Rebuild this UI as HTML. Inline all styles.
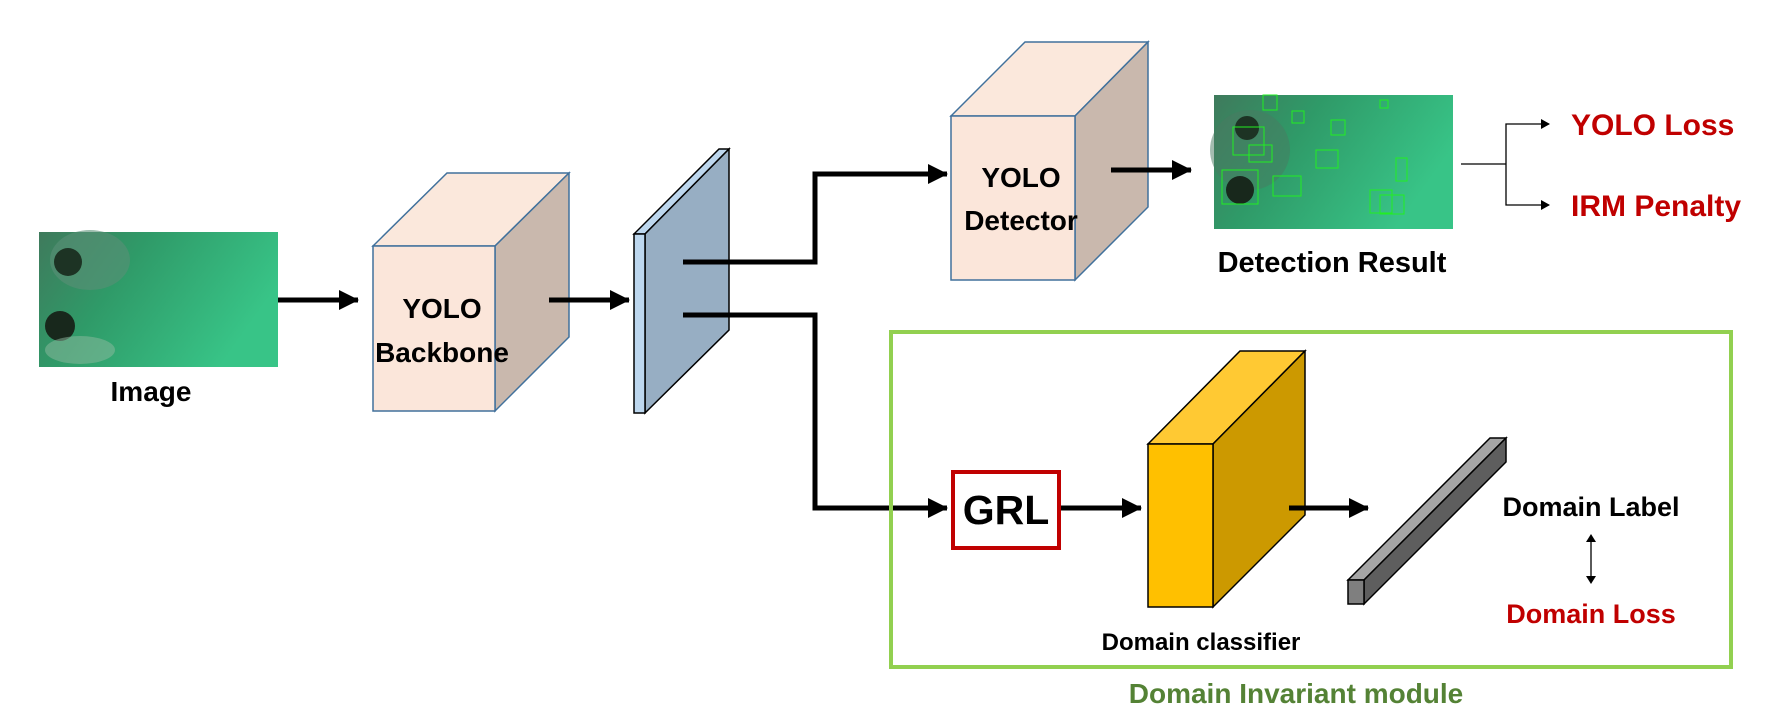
<!DOCTYPE html>
<html><head><meta charset="utf-8"><style>
html,body{margin:0;padding:0;background:#fff;}
svg{display:block;}
text{font-family:"Liberation Sans",sans-serif;font-weight:bold;}
</style></head><body>
<svg width="1781" height="725" viewBox="0 0 1781 725" xmlns="http://www.w3.org/2000/svg">
<defs>
<linearGradient id="sea" x1="0" y1="0" x2="1" y2="0.4">
<stop offset="0" stop-color="#3f7a5c"/><stop offset="0.4" stop-color="#2f9a68"/><stop offset="1" stop-color="#38c487"/>
</linearGradient>
<marker id="big" markerWidth="20" markerHeight="20" refX="19" refY="10" orient="auto" markerUnits="userSpaceOnUse">
<path d="M0,0 L20,10 L0,20 z" fill="#000"/></marker>
</defs>

<!-- input image -->
<rect x="39" y="232" width="239" height="135" fill="url(#sea)"/>
<ellipse cx="90" cy="260" rx="40" ry="30" fill="#5a8f77" opacity="0.6"/>
<circle cx="68" cy="262" r="14" fill="#1d3324"/>
<circle cx="60" cy="326" r="15" fill="#18281c"/>
<ellipse cx="80" cy="350" rx="35" ry="14" fill="#8fb9a0" opacity="0.5"/>
<text x="151" y="401" font-size="28" text-anchor="middle" fill="#000">Image</text>
<line x1="278" y1="300" x2="358" y2="300" stroke="#000" stroke-width="5" marker-end="url(#big)"/>

<!-- backbone cube -->
<polygon points="373,246 447,173 569,173 495,246" fill="#fbe8dc" stroke="#41719c" stroke-width="1.5"/>
<polygon points="495,246 569,173 569,337 495,411" fill="#c9b8ad" stroke="#41719c" stroke-width="1.5"/>
<rect x="373" y="246" width="122" height="165" fill="#fbe6da" stroke="#41719c" stroke-width="1.5"/>
<text x="442" y="318" font-size="28" text-anchor="middle">YOLO</text>
<text x="442" y="362" font-size="28" text-anchor="middle">Backbone</text>
<line x1="549" y1="300" x2="629" y2="300" stroke="#000" stroke-width="5" marker-end="url(#big)"/>

<!-- feature plate -->
<polygon points="634,234 719,149 729,149 645,234" fill="#bdd7ee" stroke="#000" stroke-width="1.5"/>
<polygon points="645,234 729,149 729,330 645,413" fill="#97aec3" stroke="#000" stroke-width="1.5"/>
<rect x="634" y="234" width="11" height="179" fill="#bdd7ee" stroke="#000" stroke-width="1.5"/>

<polyline points="683,262 815,262 815,174 947,174" fill="none" stroke="#000" stroke-width="5" marker-end="url(#big)"/>
<polyline points="683,315 815,315 815,508 947,508" fill="none" stroke="#000" stroke-width="5" marker-end="url(#big)"/>

<!-- detector cube -->
<polygon points="951,116 1025,42 1148,42 1075,116" fill="#fbe8dc" stroke="#41719c" stroke-width="1.5"/>
<polygon points="1075,116 1148,42 1148,207 1075,280" fill="#c9b8ad" stroke="#41719c" stroke-width="1.5"/>
<rect x="951" y="116" width="124" height="164" fill="#fbe6da" stroke="#41719c" stroke-width="1.5"/>
<text x="1021" y="187" font-size="28" text-anchor="middle">YOLO</text>
<text x="1021" y="230" font-size="28" text-anchor="middle">Detector</text>
<line x1="1111" y1="170" x2="1191" y2="170" stroke="#000" stroke-width="5" marker-end="url(#big)"/>

<!-- detection result -->
<rect x="1214" y="95" width="239" height="134" fill="url(#sea)"/>
<ellipse cx="1250" cy="150" rx="40" ry="40" fill="#4a7a62" opacity="0.5"/>
<circle cx="1240" cy="190" r="14" fill="#18281c"/>
<circle cx="1247" cy="128" r="12" fill="#1d3324"/>
<g fill="none" stroke="#22ee22" stroke-width="1">
<rect x="1222" y="170" width="36" height="34"/><rect x="1233" y="127" width="31" height="28"/>
<rect x="1263" y="95" width="14" height="15"/><rect x="1292" y="111" width="12" height="12"/>
<rect x="1331" y="120" width="14" height="15"/><rect x="1249" y="145" width="23" height="17"/>
<rect x="1316" y="150" width="22" height="18"/><rect x="1273" y="176" width="28" height="20"/>
<rect x="1396" y="158" width="11" height="23"/><rect x="1370" y="190" width="22" height="23"/>
<rect x="1380" y="195" width="24" height="19"/><rect x="1380" y="100" width="8" height="8"/>
</g>
<text x="1332" y="272" font-size="29" text-anchor="middle">Detection Result</text>

<polyline points="1461,164 1506,164" fill="none" stroke="#000" stroke-width="1.3"/>
<polyline points="1549,124 1506,124 1506,205 1549,205" fill="none" stroke="#000" stroke-width="1.3"/>
<polygon points="1541,119 1550,124 1541,129" fill="#000"/>
<polygon points="1541,200 1550,205 1541,210" fill="#000"/>
<text x="1571" y="135" font-size="30" fill="#c00000">YOLO Loss</text>
<text x="1571" y="216" font-size="30" fill="#c00000">IRM Penalty</text>

<!-- domain invariant module -->
<rect x="891" y="332" width="840" height="335" fill="none" stroke="#92d050" stroke-width="4"/>
<text x="1296" y="703" font-size="28" text-anchor="middle" fill="#548235">Domain Invariant module</text>

<rect x="953" y="472" width="106" height="76" fill="#fff" stroke="#c00000" stroke-width="4"/>
<text x="1006" y="524" font-size="41" text-anchor="middle">GRL</text>
<line x1="1061" y1="508" x2="1141" y2="508" stroke="#000" stroke-width="5" marker-end="url(#big)"/>

<polygon points="1148,444 1240,351 1305,351 1213,444" fill="#ffc933" stroke="#000" stroke-width="1.5"/>
<polygon points="1213,444 1305,351 1305,515 1213,607" fill="#cc9900" stroke="#000" stroke-width="1.5"/>
<rect x="1148" y="444" width="65" height="163" fill="#ffc000" stroke="#000" stroke-width="1.5"/>
<line x1="1289" y1="508" x2="1368" y2="508" stroke="#000" stroke-width="5" marker-end="url(#big)"/>
<text x="1201" y="650" font-size="24" text-anchor="middle">Domain classifier</text>

<polygon points="1348,580 1490,438 1506,438 1364,580" fill="#a5a5a5" stroke="#000" stroke-width="1.5"/>
<polygon points="1364,580 1506,438 1506,462 1364,604" fill="#5e5e5e" stroke="#000" stroke-width="1.5"/>
<rect x="1348" y="580" width="16" height="24" fill="#7f7f7f" stroke="#000" stroke-width="1.5"/>

<text x="1591" y="516" font-size="27" text-anchor="middle">Domain Label</text>
<line x1="1591" y1="540" x2="1591" y2="578" stroke="#000" stroke-width="1.3"/>
<polygon points="1586,542 1591,534 1596,542" fill="#000"/>
<polygon points="1586,576 1591,584 1596,576" fill="#000"/>
<text x="1591" y="623" font-size="27" text-anchor="middle" fill="#c00000">Domain Loss</text>
</svg>
</body></html>
